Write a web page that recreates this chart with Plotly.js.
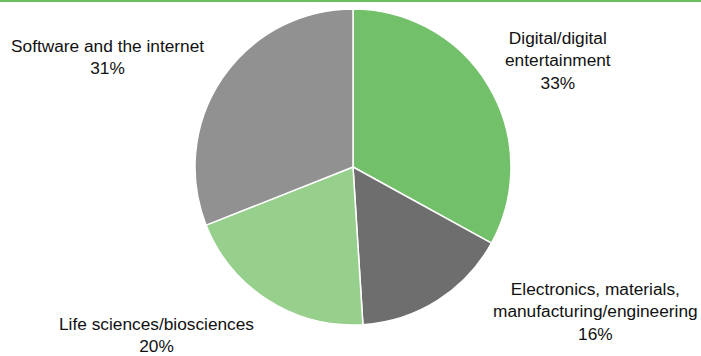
<!DOCTYPE html>
<html>
<head>
<meta charset="utf-8">
<script src="https://cdn.plot.ly/plotly-3.0.1.min.js"></script>
<style>html,body{margin:0;padding:0;background:#fff;}#chart{width:701px;height:356px;}</style>
</head>
<body>
<div id="chart"></div>
<script>
const labels = ["Digital/digital<br>entertainment", "Electronics, materials,<br>manufacturing/engineering", "Life sciences/biosciences", "Software and the internet"];
const values = [33, 16, 20, 31];
const colors = ["#73C06B", "#6E6E6E", "#96D08C", "#919191"];
const labelPos = [[0.796, 0.831], [0.850, 0.124], [0.223, 0.059], [0.154, 0.841]];

const W = 701, H = 356;
const cx = 353, cy = 167, r = 158;

const annotations = labels.map((l, i) => ({
  text: l + "<br>" + values[i] + "%",
  x: labelPos[i][0], y: labelPos[i][1], xref: "paper", yref: "paper",
  xanchor: "center", yanchor: "middle", showarrow: false, align: "center",
  font: {family: "Liberation Sans, Arial, sans-serif", size: 17.3, color: "#111111"}
}));

Plotly.newPlot("chart", [{
  type: "pie",
  labels: labels,
  values: values,
  sort: false,
  direction: "clockwise",
  rotation: 0,
  textinfo: "none",
  hoverinfo: "none",
  marker: {colors: colors, line: {color: "#ffffff", width: 1.5}},
  domain: {x: [(cx - r) / W, (cx + r) / W], y: [(H - cy - r) / H, (H - cy + r) / H]},
  showlegend: false
}], {
  width: W, height: H,
  margin: {l: 0, r: 0, t: 0, b: 0},
  paper_bgcolor: "#ffffff",
  showlegend: false,
  annotations: annotations,
  shapes: [{type: "line", xref: "paper", yref: "paper", x0: 0, x1: 1, y0: 1 - 1 / H, y1: 1 - 1 / H, line: {color: "#6CBF5F", width: 2}}]
}, {displayModeBar: false, staticPlot: true});
</script>
</body>
</html>
